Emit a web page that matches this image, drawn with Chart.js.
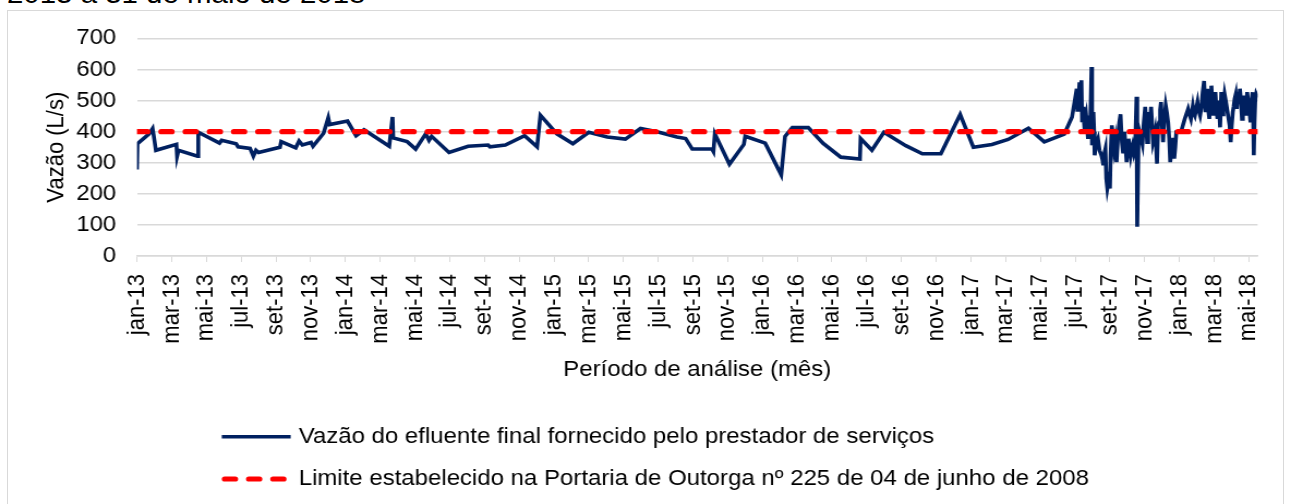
<!DOCTYPE html>
<html lang="pt-BR">
<head>
<meta charset="utf-8">
<title>Vazão do efluente final</title>
<script src="https://cdn.jsdelivr.net/npm/chart.js@4.4.1/dist/chart.umd.min.js"></script>
<style>
  html, body { margin: 0; padding: 0; background: #fff; overflow: hidden; }
  body { width: 1291px; height: 504px; position: relative; font-family: 'Liberation Sans', Arial, sans-serif; }
  #titulo { position: absolute; left: 7px; top: -19px; font-size: 27px; line-height: 27px; white-space: nowrap;
            transform-origin: 0 0; transform: scaleX(1.09); color: #000; }
  #moldura { position: absolute; left: 7px; top: 10px; width: 1277px; height: 520px; border: 1px solid #d9d9d9; box-sizing: border-box; }
  #grafico { position: absolute; left: 0; top: 0; }
</style>
</head>
<body>
<div id="titulo">2013 a 31 de maio de 2018</div>
<div id="moldura"></div>
<canvas id="grafico" width="1184" height="504" style="width:1291px;height:504px"></canvas>
<script>
// rótulos do eixo X (um a cada 2 meses)
const rotulosMeses = [
  'jan-13', 'mar-13', 'mai-13', 'jul-13', 'set-13', 'nov-13',
  'jan-14', 'mar-14', 'mai-14', 'jul-14', 'set-14', 'nov-14',
  'jan-15', 'mar-15', 'mai-15', 'jul-15', 'set-15', 'nov-15',
  'jan-16', 'mar-16', 'mai-16', 'jul-16', 'set-16', 'nov-16',
  'jan-17', 'mar-17', 'mai-17', 'jul-17', 'set-17', 'nov-17',
  'jan-18', 'mar-18', 'mai-18'
];

// tempo em meses contados a partir de jan/2013
const mesesAnalise = [
  0.00, 0.03, 0.70, 0.90, 0.97, 1.09, 2.27, 2.31, 2.39, 3.49,
  3.53, 4.75, 4.87, 5.71, 5.82, 6.51, 6.70, 6.85, 7.00, 7.23,
  8.23, 8.30, 9.14, 9.33, 9.52, 10.02, 10.13, 10.74, 11.01, 11.09,
  12.12, 12.61, 13.07, 14.52, 14.71, 14.75, 15.55, 16.04, 16.62, 16.81,
  16.96, 17.96, 19.06, 20.21, 20.32, 21.20, 22.31, 23.03, 23.22, 24.17,
  25.09, 26.00, 27.07, 28.11, 28.98, 29.94, 31.08, 31.58, 31.96, 33.10,
  33.18, 33.26, 34.10, 34.93, 35.01, 36.16, 37.08, 37.30, 37.72, 38.64,
  39.48, 40.51, 41.61, 41.65, 42.30, 42.99, 44.25, 45.20, 46.27, 47.38,
  48.14, 49.21, 50.14, 51.31, 52.22, 53.37, 53.82,
  // a partir de jul/2017 as medições ficam quase diárias
  54.09, 54.13, 54.17, 54.21, 54.25, 54.31, 54.36, 54.40, 54.44, 54.48,
  54.55, 54.59, 54.63, 54.68, 54.74, 54.80, 54.86, 54.94, 54.97, 55.05,
  55.09, 55.12, 55.20, 55.31, 55.40, 55.51, 55.57, 55.62, 55.68, 55.74,
  55.79, 55.85, 55.92, 56.00, 56.04, 56.11, 56.16, 56.23, 56.30, 56.38,
  56.46, 56.54, 56.61, 56.69, 56.76, 56.84, 56.90, 56.96, 57.01, 57.07,
  57.13, 57.19, 57.25, 57.30, 57.38, 57.45, 57.53, 57.57, 57.64, 57.70,
  57.80, 57.87, 57.95, 58.03, 58.09, 58.14, 58.20, 58.25, 58.31, 58.37,
  58.43, 58.48, 58.54, 58.60, 58.66, 58.71, 58.77, 58.83, 58.89, 58.94,
  59.00, 59.06, 59.13, 59.21, 59.28, 59.35, 59.41, 59.47, 59.53, 59.59,
  59.64, 59.70, 59.76, 59.82, 59.90, 60.09, 60.30, 60.50, 60.58, 60.66,
  60.77, 60.83, 60.89, 60.95, 61.04, 61.10, 61.19, 61.27, 61.34, 61.42,
  61.50, 61.56, 61.61, 61.66, 61.72, 61.78, 61.84, 61.90, 61.96, 62.00,
  62.07, 62.13, 62.19, 62.27, 62.34, 62.41, 62.47, 62.53, 62.60, 62.68,
  62.75, 62.83, 62.89, 62.95, 63.01, 63.07, 63.12, 63.18, 63.24, 63.30,
  63.37, 63.42, 63.48, 63.54, 63.60, 63.65, 63.71, 63.77, 63.83, 63.90,
  63.95, 64.01, 64.05, 64.09, 64.15, 64.21, 64.24, 64.28, 64.32, 64.36,
  64.42, 64.50
];

// vazão do efluente final (L/s)
const vazaoEfluente = [
  278, 361, 393, 410, 385, 340, 359, 321, 340, 321,
  398, 363, 372, 361, 351, 346, 321, 340, 333, 336,
  350, 368, 348, 370, 357, 365, 353, 395, 445, 423,
  434, 387, 406, 353, 447, 380, 368, 344, 393, 372,
  385, 333, 353, 357, 351, 357, 387, 351, 453, 393,
  361, 398, 383, 376, 410, 400, 383, 378, 344, 344,
  336, 393, 295, 359, 385, 363, 261, 385, 413, 413,
  363, 318, 312, 378, 340, 398, 355, 329, 329, 455,
  350, 359, 375, 411, 367, 392, 447,
  538, 470, 484, 520, 559, 470, 565, 430, 480, 452,
  399, 440, 452, 420, 377, 420, 390, 608, 356, 463,
  400, 324, 360, 377, 340, 324, 310, 292, 330, 345,
  250, 217, 240, 217, 324, 420, 390, 345, 370, 302,
  380, 430, 456, 366, 330, 399, 350, 302, 340, 377,
  350, 324, 345, 356, 330, 345, 512, 94, 356, 400,
  377, 360, 430, 480, 420, 366, 400, 463, 430, 480,
  420, 366, 380, 399, 350, 297, 420, 430, 470, 495,
  420, 366, 440, 484, 460, 430, 380, 302, 330, 356,
  380, 313, 350, 399, 400, 399, 440, 473, 455, 441,
  482, 460, 452, 470, 495, 470, 452, 480, 527, 563,
  463, 500, 538, 470, 441, 505, 548, 480, 452, 490,
  527, 470, 441, 500, 414, 527, 455, 484, 520, 495,
  470, 441, 420, 366, 420, 463, 480, 506, 520, 473,
  527, 490, 538, 500, 441, 470, 516, 490, 452, 527,
  500, 473, 455, 430, 500, 527, 470, 324, 430, 495,
  520, 510
];

// limite da outorga (L/s) e período em que vale
const limiteOutorga = [400, 400];
const mesesLimite = [0, 64.5];

const fonte = "'Liberation Sans', Arial, sans-serif";
Chart.defaults.font.family = fonte;
Chart.defaults.font.size = 22;
Chart.defaults.color = '#000';

// legenda em coluna, alinhada à esquerda, como no original
const legendaEmColuna = {
  id: 'legendaEmColuna',
  afterDraw(chart) {
    const ctx = chart.ctx;
    const linhas = [436.7, 479];
    ctx.save();
    ctx.font = '22px ' + fonte;
    ctx.textBaseline = 'middle';
    chart.data.datasets.forEach((ds, i) => {
      const y = linhas[i];
      ctx.beginPath();
      ctx.strokeStyle = ds.borderColor;
      ctx.lineWidth = ds.borderWidth;
      ctx.lineCap = ds.borderDash ? 'round' : 'butt';
      ctx.setLineDash(ds.borderDash || []);
      if (ds.borderDash) {
        ctx.moveTo(206, y);
        ctx.lineTo(264, y);
      } else {
        ctx.moveTo(203.4, y);
        ctx.lineTo(266.6, y);
      }
      ctx.stroke();
      ctx.setLineDash([]);
      ctx.fillStyle = '#000';
      ctx.fillText(ds.label, 273.9, y);
    });
    ctx.restore();
  }
};

new Chart(document.getElementById('grafico'), {
  type: 'line',
  data: {
    datasets: [
      {
        label: 'Vazão do efluente final fornecido pelo prestador de serviços',
        data: mesesAnalise.map((m, i) => ({ x: m, y: vazaoEfluente[i] })),
        borderColor: '#002060',
        borderWidth: 3.6,
        pointRadius: 0,
        tension: 0,
        order: 1
      },
      {
        label: 'Limite estabelecido na Portaria de Outorga nº 225 de 04 de junho de 2008',
        data: mesesLimite.map((m, i) => ({ x: m, y: limiteOutorga[i] })),
        borderColor: '#ff0000',
        borderWidth: 5.2,
        borderDash: [9.8, 12.4],
        borderCapStyle: 'round',
        pointRadius: 0,
        order: 0
      }
    ]
  },
  options: {
    responsive: false,
    devicePixelRatio: 1,
    animation: false,
    events: [],
    layout: { padding: { left: 0, right: 25.4, top: 38.4, bottom: 118 } },
    plugins: {
      legend: { display: false },
      tooltip: { enabled: false }
    },
    scales: {
      x: {
        type: 'linear',
        min: 0,
        max: 64.5,
        afterFit: s => { s.height = 130; },
        grid: { drawOnChartArea: false, drawTicks: true, tickLength: 6, color: '#d9d9d9' },
        border: { display: true, color: '#d9d9d9', width: 1.5 },
        ticks: {
          stepSize: 2,
          autoSkip: false,
          includeBounds: false,
          minRotation: 90,
          maxRotation: 90,
          padding: 12,
          callback: v => rotulosMeses[Math.round(v / 2)] || ''
        },
        title: { display: true, text: 'Período de análise (mês)', padding: { top: 0, bottom: 3 } }
      },
      y: {
        min: 0,
        max: 700,
        afterFit: s => { s.width = 125.6; },
        grid: { color: '#d9d9d9', lineWidth: 1.5, drawTicks: false },
        border: { display: false },
        ticks: { stepSize: 100, padding: 19 },
        title: { display: true, text: 'Vazão (L/s)', padding: { top: 38.5, bottom: 0 } }
      }
    }
  },
  plugins: [legendaEmColuna]
});
</script>
</body>
</html>
